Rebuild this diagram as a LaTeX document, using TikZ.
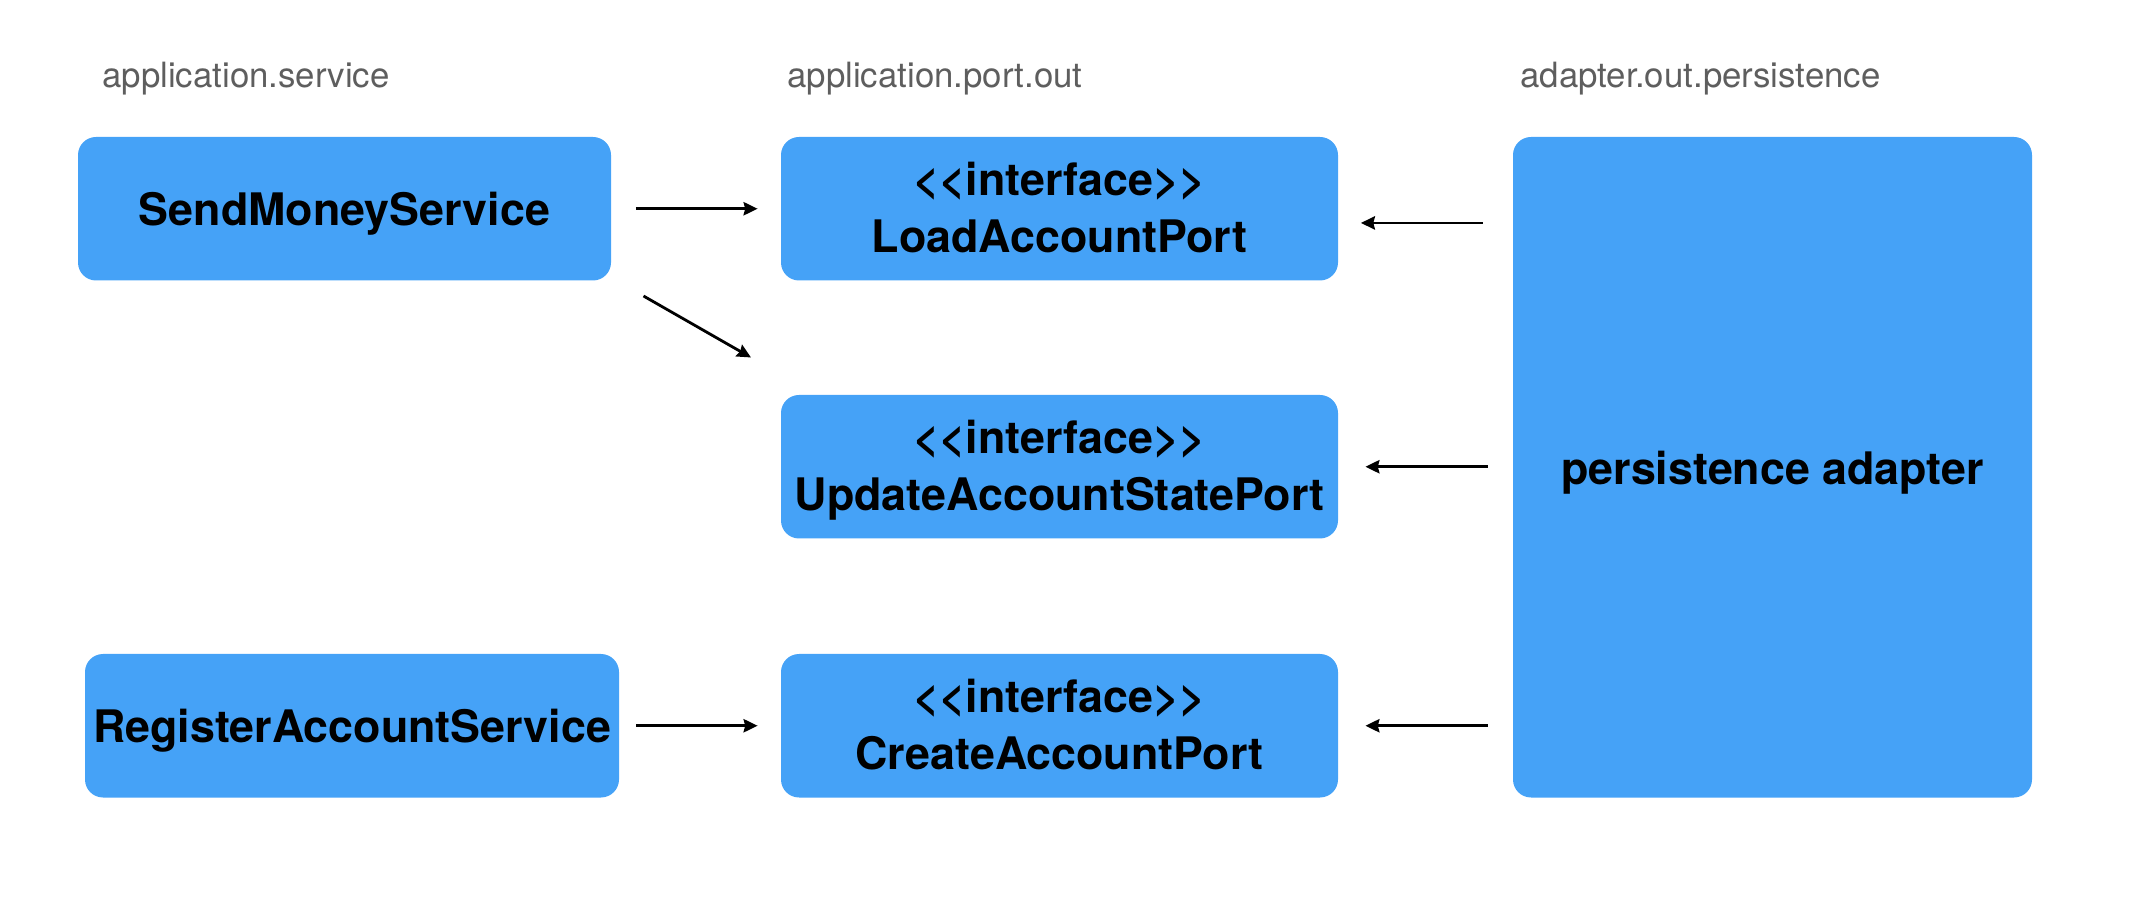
\documentclass[tikz,border=0pt]{standalone}
\usepackage{fontspec}
\setmainfont{TeX Gyre Heros}
\usetikzlibrary{arrows.meta}
\definecolor{boxblue}{RGB}{69,162,247}
\definecolor{labelgray}{RGB}{94,94,94}
\tikzset{
  blk/.style={fill=boxblue, draw=none, rounded corners=9pt, inner sep=0pt,
    align=center, font=\fontsize{22.4pt}{28.5pt}\selectfont\bfseries, text=black},
  oneline/.style={text height=17pt, text depth=0pt},
  twoline/.style={text height=44.2pt, text depth=0pt},
  pkg/.style={anchor=base west, inner sep=0pt, text=labelgray,
    font=\fontsize{17.4pt}{20pt}\selectfont},
  arr/.style={draw=black, line width=1.4pt, -{Stealth[length=7pt,width=6.6pt,inset=0.8pt]}}
}
\newcommand{\ifc}{<{}<interface>{}>}
\begin{document}
\begin{tikzpicture}[x=0.5pt,y=-0.5pt]
\useasboundingbox (0,0) rectangle (2144,898);
% package labels
\node[pkg] (l1) at (102,88) {application.service};
\node[pkg] (l2) at (787,88) {application.port.out};
\node[pkg] (l3) at (1520,88) {adapter.out.persistence};
% boxes
\node[blk, oneline, minimum width=266.5pt, minimum height=71.75pt] (sms) at (344.5,208.75) {SendMoneyService};
\node[blk, oneline, minimum width=267pt, minimum height=71.75pt] (ras) at (352,725.75) {RegisterAccountService};
\node[blk, twoline, minimum width=278.5pt, minimum height=71.75pt] (load) at (1059.5,208.75) {\ifc\\LoadAccountPort};
\node[blk, twoline, minimum width=278.5pt, minimum height=71.75pt] (upd) at (1059.5,466.75) {\ifc\\UpdateAccountStatePort};
\node[blk, twoline, minimum width=278.5pt, minimum height=71.75pt] (crt) at (1059.5,725.75) {\ifc\\CreateAccountPort};
\node[blk, oneline, minimum width=259.5pt, minimum height=330.25pt] (pa) at (1772.5,467.25) {persistence adapter};
% helper coordinates
\coordinate (la) at ([yshift=-7.1pt]load.east);
\coordinate (d1) at (643.5,296);
\coordinate (d2) at (751,357.5);
% connectors
\draw[arr, shorten <=12.25pt, shorten >=11.5pt] (sms) -- (load);
\draw[arr] (d1) -- (d2);
\draw[arr, shorten <=8.5pt, shorten >=11.5pt] (ras.east) -- (crt.west);
\draw[arr, shorten <=15pt, shorten >=11.25pt] (la -| pa.west) -- (la);
\draw[arr, shorten <=12.5pt, shorten >=13.5pt] (pa.west |- upd.east) -- (upd.east);
\draw[arr, shorten <=12.5pt, shorten >=13.5pt] (pa.west |- crt.east) -- (crt.east);
\end{tikzpicture}
\end{document}
